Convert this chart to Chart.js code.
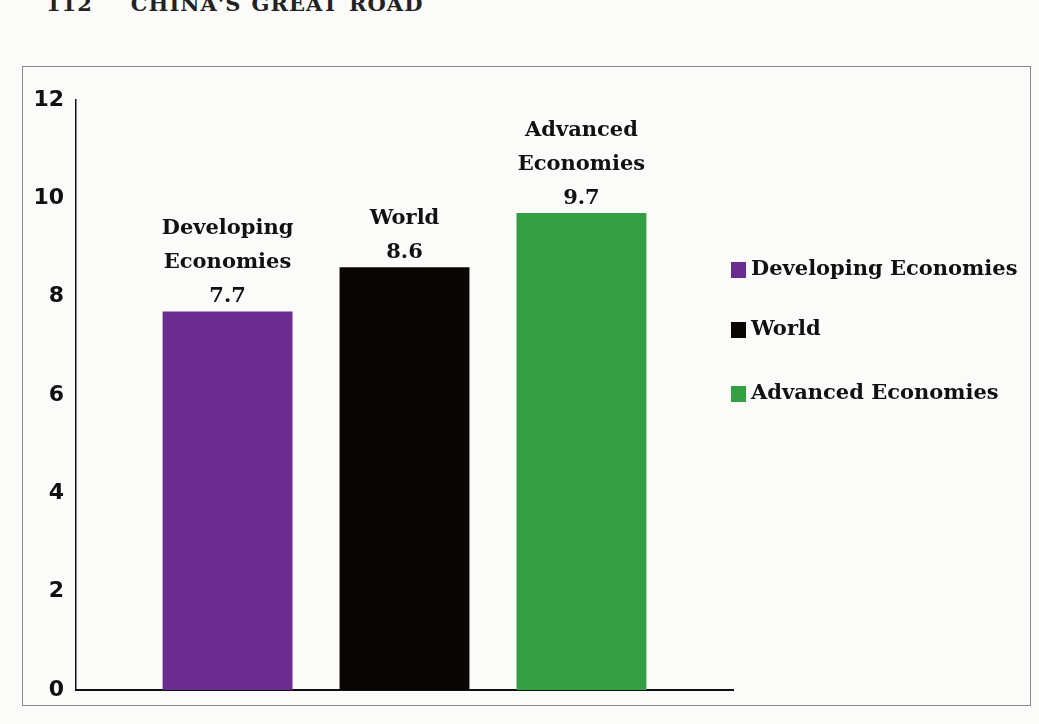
<!DOCTYPE html>
<html lang="en">
<head>
    <meta charset="UTF-8">
    <title>Developing vs Advanced Economies</title>
    <script src="https://cdn.jsdelivr.net/npm/chart.js"></script>
    <style>
        html, body { margin: 0; padding: 0; background: #fbfbfa; }
        #page { position: relative; width: 1039px; height: 724px; overflow: hidden; }
        #header {
            position: absolute; left: 46px; top: -9px;
            font-family: "DejaVu Serif", serif; font-weight: bold; font-size: 21px;
            color: #222; letter-spacing: 1px; word-spacing: 2px;
        }
        #header span { margin-left: 38px; }
        #frame {
            position: absolute; left: 22px; top: 66px; width: 1007px; height: 638px;
            border: 1.5px solid #8a8a8a;
        }
        #chartBox { position: absolute; left: 0; top: 0; width: 1039px; height: 724px; }
    </style>
</head>
<body>
<div id="page">
    <div id="header">112<span>CHINA'S GREAT ROAD</span></div>
    <div id="frame"></div>
    <div id="chartBox"><canvas id="barChart"></canvas></div>
</div>

<script>
    // values
    const seriesNames = ['Developing Economies', 'World', 'Advanced Economies'];
    const labelLines = [['Developing', 'Economies'], ['World'], ['Advanced', 'Economies']];
    const values = [7.7, 8.6, 9.7];
    const colors = ['#6a2c8e', '#0b0606', '#35a043'];
    const yTicks = [0, 2, 4, 6, 8, 10, 12];

    const serif = '"DejaVu Serif", "Liberation Serif", serif';

    // text above each bar: name lines then the value
    const barLabels = {
        id: 'barLabels',
        afterDatasetsDraw(chart) {
            const ctx = chart.ctx;
            ctx.save();
            ctx.fillStyle = '#111';
            ctx.font = 'bold 21px ' + serif;
            ctx.textAlign = 'center';
            ctx.textBaseline = 'alphabetic';
            chart.data.datasets.forEach((ds, i) => {
                const bar = chart.getDatasetMeta(i).data[0];
                const lines = labelLines[i].concat([ds.data[0].toFixed(1)]);
                let y = bar.y - 9;
                for (let k = lines.length - 1; k >= 0; k--) {
                    ctx.fillText(lines[k], bar.x, y);
                    y -= 34;
                }
            });
            ctx.restore();
        }
    };

    // legend drawn at the right, outside the plot
    const sideLegend = {
        id: 'sideLegend',
        afterDraw(chart) {
            const ctx = chart.ctx;
            const x0 = 731;
            const rows = [270, 330, 394];
            ctx.save();
            ctx.font = 'bold 21px ' + serif;
            ctx.textBaseline = 'middle';
            chart.data.datasets.forEach((ds, i) => {
                ctx.fillStyle = ds.backgroundColor;
                ctx.fillRect(x0, rows[i] - 8, 15, 16);
                ctx.fillStyle = '#111';
                ctx.fillText(ds.label, x0 + 20, rows[i]);
            });
            ctx.restore();
        }
    };

    const ctx = document.getElementById('barChart').getContext('2d');
    new Chart(ctx, {
        type: 'bar',
        data: {
            labels: [''],
            datasets: seriesNames.map((name, i) => ({
                label: name,
                data: [values[i]],
                backgroundColor: colors[i],
                borderWidth: 0,
                categoryPercentage: 0.808,
                barPercentage: 0.734,
            })),
        },
        options: {
            responsive: true,
            maintainAspectRatio: false,
            animation: false,
            layout: { padding: { top: 100, right: 306, bottom: 34, left: 0 } },
            plugins: {
                legend: { display: false },
                tooltip: { enabled: false },
            },
            scales: {
                x: {
                    grid: { display: false, drawTicks: false },
                    ticks: { display: false },
                    border: { color: '#111', width: 2 },
                    afterFit: (scale) => { scale.height = 0; },
                },
                y: {
                    min: 0,
                    max: 12,
                    afterBuildTicks: (scale) => { scale.ticks = yTicks.map(v => ({ value: v })); },
                    grid: { display: false, drawTicks: false },
                    border: { color: '#111', width: 1.5 },
                    ticks: {
                        padding: 12,
                        color: '#111',
                        font: { family: '"DejaVu Sans", sans-serif', size: 22, weight: 'bold' },
                    },
                    afterFit: (scale) => { scale.width = 76; },
                },
            },
        },
        plugins: [barLabels, sideLegend],
    });
</script>
</body>
</html>
